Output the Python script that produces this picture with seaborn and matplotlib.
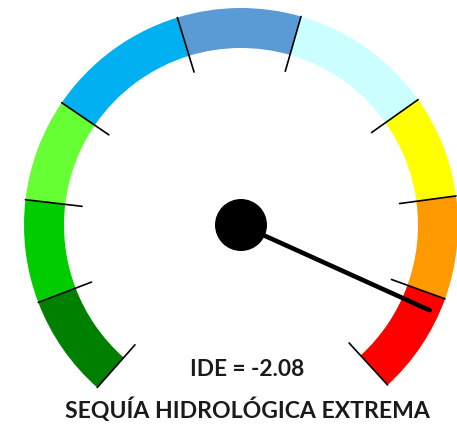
import numpy as np
import pandas as pd
import matplotlib
matplotlib.use("Agg")
import matplotlib.pyplot as plt
from matplotlib.patches import Wedge, Circle
import seaborn as sns

# ---- data ----
categories = ["Sequía extrema", "Sequía severa", "Sequía moderada", "Normal seco",
              "Normal", "Normal húmedo", "Humedad moderada", "Humedad severa", "Humedad extrema"]
bounds = [-2.5, -2.0, -1.5, -1.0, -0.3, 0.3, 1.0, 1.5, 2.0, 2.5]
colors = ["#FF0000", "#FF9900", "#FFFF00", "#CCFFFF", "#5B9BD5",
          "#00B0F0", "#66FF33", "#00CC00", "#008000"]
ide_value = -2.08
label_value = "IDE = -2.08"
label_category = "SEQUÍA HIDROLÓGICA EXTREMA"

# ---- geometry ----
W, H = 457, 424
cx, cy = 241, H - 225
R_out, R_in = 217, 177
tick_in = 160
needle_len = 207
theta_right, sweep = -47.5, 276.0
vmin, vmax = bounds[0], bounds[-1]

def ang(v):
    return theta_right + (v - vmin) / (vmax - vmin) * sweep

sns.set_theme(style="white")
plt.rcParams["font.family"] = ["Lato", "DejaVu Sans"]

fig = plt.figure(figsize=(W / 100, H / 100), dpi=100)
ax = fig.add_axes([0, 0, 1, 1])
ax.set_xlim(0, W)
ax.set_ylim(0, H)
ax.axis("off")

for lo, hi, c in zip(bounds[:-1], bounds[1:], colors):
    ax.add_patch(Wedge((cx, cy), R_out, ang(lo), ang(hi), width=R_out - R_in,
                       facecolor=c, edgecolor="none", zorder=1))

# tick lines at the boundaries
rows = []
for i, b in enumerate(bounds):
    t = np.deg2rad(ang(b))
    for r in (tick_in, R_out):
        rows.append({"x": cx + r * np.cos(t), "y": cy + r * np.sin(t), "u": i})
ticks = pd.DataFrame(rows)
sns.lineplot(data=ticks, x="x", y="y", units="u", estimator=None, sort=False,
             color="black", linewidth=1.2, ax=ax, zorder=3, legend=False)

# needle
t = np.deg2rad(ang(ide_value))
needle = pd.DataFrame({"x": [cx, cx + needle_len * np.cos(t)],
                       "y": [cy, cy + needle_len * np.sin(t)]})
sns.lineplot(data=needle, x="x", y="y", sort=False, color="black", linewidth=3.3,
             solid_capstyle="round", ax=ax, zorder=4)
ax.add_patch(Circle((cx, cy), 26, facecolor="black", edgecolor="none", zorder=5))

ax.text(247.5, H - 369, label_value, ha="center", va="center", fontsize=16.3,
        fontweight="bold", color="#1a1a1a")
ax.text(247.5, H - 410, label_category, ha="center", va="center", fontsize=16.6,
        fontweight="bold", color="#1a1a1a")

ax.set_xlim(0, W)
ax.set_ylim(0, H)
ax.set_xlabel("")
ax.set_ylabel("")
fig.savefig("out.png", dpi=100)
